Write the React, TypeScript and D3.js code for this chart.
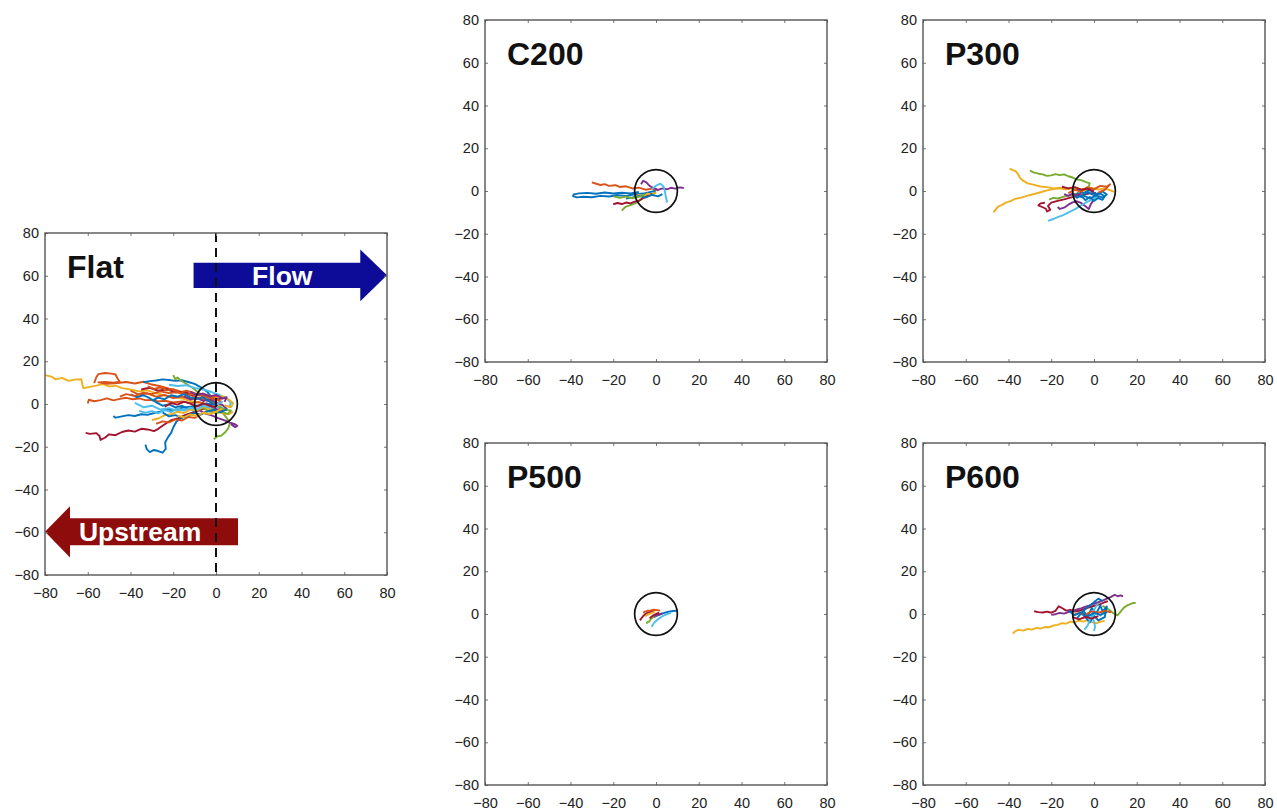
import { useEffect, useRef } from 'react';
import { select, scaleLinear, axisBottom, axisLeft, axisTop, axisRight, line } from 'd3';

type Pt = [number, number];

const tickValues = [-80, -60, -40, -20, 0, 20, 40, 60, 80];

const palette: Record<string, string> = {
  blue: '#0072BD',
  orange: '#D95319',
  yellow: '#EDB120',
  purple: '#7E2F8E',
  green: '#77AC30',
  cyan: '#4DBEEE',
  red: '#A2142F',
};

// target circle radius (data units)
const targetRadius = 10;

// Flat
const flatColors = [
  'yellow', 'orange', 'orange', 'blue', 'blue', 'red', 'blue', 'green', 'green', 'purple', 'cyan',
  'orange', 'blue', 'yellow', 'red', 'orange', 'purple', 'green', 'cyan', 'yellow', 'orange', 'blue',
  'cyan', 'orange', 'blue', 'yellow', 'purple', 'red',
];
const flatTracks: Pt[][] = [
  [[-80, 13.5], [-77, 12.8], [-75, 11.5], [-72, 12.2], [-69, 10.8], [-66, 11.4], [-63, 11.6], [-62.5, 9], [-62, 7.4], [-59, 8], [-56, 8.6], [-53, 9.3], [-50, 8.2], [-47, 8.6], [-44, 7.4], [-40, 6.8], [-36, 5.9], [-32, 6.4], [-28, 5], [-24, 4.1], [-20, 3.2], [-16, 2.6], [-12, 1.4], [-8, 0.8], [-4, -0.5], [0, 0.3], [3, -1]],
  [[-57, 9.8], [-56, 12.5], [-55, 14], [-52, 14.5], [-49, 14.2], [-47, 13.8], [-46, 11.8], [-45, 10.4], [-48, 10], [-52, 10.3], [-55, 10.1], [-51, 9.4], [-46, 9.8], [-42, 10.3], [-38, 9.6], [-34, 10.4], [-30, 9.1], [-26, 8.3], [-22, 7.2], [-18, 6.3], [-14, 5], [-10, 3.4], [-6, 2.1], [-2, 1]],
  [[-60, 0.2], [-59.5, 2], [-57, 1.3], [-54, 1.8], [-51, 2.6], [-48, 1.7], [-45, 2.4], [-42, 2.9], [-39, 2.2], [-36, 2.6], [-33, 1.8], [-30, 1.9], [-27, 1.2], [-24, 1.5], [-20, 0.7], [-16, 1.2], [-12, 0.4], [-8, 0.9], [-4, -0.2], [0, 0.5]],
  [[-48, -5.6], [-47, -6.4], [-44, -5.8], [-41, -5.2], [-38, -5.6], [-35, -4.8], [-32, -5.1], [-29, -4.2], [-26, -3.6], [-23, -2.5], [-20, -2.9], [-16, -1.8], [-12, -1.2], [-8, -0.6], [-4, 0.2], [-1, -0.8]],
  [[-33, -19], [-32.5, -21], [-31, -22.5], [-29, -21.5], [-27, -22], [-25, -22.8], [-23.5, -21], [-23.8, -18], [-22.5, -15.6], [-21, -13.5], [-20, -11], [-18.5, -8.2], [-16, -6.5], [-13, -4.8], [-10, -3.6], [-7, -2.5], [-4, -1.5], [-1, -1]],
  [[-61, -13.5], [-59, -14], [-56, -13.6], [-54.5, -15], [-54, -16.8], [-52, -15.8], [-50, -14.2], [-47, -14.6], [-44, -13.1], [-41, -12.4], [-38, -12.9], [-35, -11.6], [-32, -11.9], [-29, -12.7], [-27, -11.6], [-24, -9.5], [-21, -7.6], [-18, -6.8], [-14, -5], [-10, -3.8], [-6, -2.2], [-2, -1.4], [1, -0.6]],
  [[-34, 10.2], [-31, 10.7], [-28, 11], [-25, 11.5], [-22, 11.2], [-19, 10.8], [-16, 11.1], [-13, 10.3], [-10, 9.4], [-7, 7.8], [-4, 5.6], [-2, 3.2], [0, 1.5]],
  [[-20, 13.5], [-19, 11.6], [-18, 12.4], [-16.5, 11], [-14, 9.5], [-11, 7.6], [-8, 5.2], [-5, 3.1], [-2, 1]],
  [[-1, -16.5], [0.5, -15.2], [2.5, -14.8], [4.5, -13], [5.8, -11.2], [6.5, -9], [5, -6.5], [3, -4], [1, -2.5]],
  [[-8, -2.8], [-5, -4.5], [-2, -5.3], [1, -6.6], [4, -7.7], [6.5, -8.7], [8.5, -9.3], [10, -10.2], [9, -10.8], [7, -9.5]],
  [[-38, 0.5], [-34, -1.5], [-30, -0.8], [-26, -2.6], [-22, -1.9], [-18, -3.2], [-14, -2.2], [-10, -3.1], [-6, -1.5], [-2, -2.4], [2, -1.2], [5, -3]],
  [[-40, 6.2], [-36, 4.4], [-32, 4.9], [-28, 3.4], [-24, 4.2], [-20, 2.8], [-16, 3.5], [-12, 2.4], [-8, 3], [-4, 1.6], [0, 2.2], [3, 0.8]],
  [[-40, 4.5], [-37, 3.2], [-34, 4.1], [-31, 2.7], [-28, 0.8], [-25, -0.8], [-22, -0.2], [-19, -1.6], [-16, -0.9], [-13, -2.1], [-10, -1.2], [-7, -0.5], [-4, 0.4]],
  [[-30, -7.5], [-27, -6.8], [-24, -5.2], [-21, -4.8], [-18, -3.6], [-15, -4.2], [-12, -2.6], [-9, -3], [-6, -1.6], [-3, -2.4], [0, -3], [3, -4.4], [6, -4.8], [8, -3.5]],
  [[-35, 6.8], [-31, 7.6], [-27, 6.2], [-23, 6.9], [-19, 5.4], [-15, 5.8], [-11, 4.3], [-7, 4.7], [-3, 3.1], [1, 2.3], [4, 2.8]],
  [[-28, -9.3], [-25, -8.1], [-22, -8.6], [-19, -7.2], [-16, -7.8], [-13, -6.1], [-10, -6.5], [-7, -4.8], [-4, -3.2], [-1, -3.7], [2, -2.1]],
  [[-15, 3.6], [-12, 2.1], [-9, 2.9], [-6, 1.4], [-3, 2.3], [0, 0.6], [3, -0.4], [5, -2.2], [2, -3.3], [-1, -1.8]],
  [[-6, -2], [-3, -3.5], [0, -4.2], [3, -3.8], [5.5, -4.6], [7, -3.1], [4, -2.6], [1, -1.2]],
  [[-22, 9], [-18, 8.4], [-14, 8.8], [-10, 7.5], [-6, 6.8], [-2, 5.6], [2, 4.1], [5, 2.5], [7, 0.6], [6, -1.8]],
  [[-3, 4], [0, 3], [3, 3.7], [6, 2.1], [8, 0.4], [7, -1.5], [4, -0.6]],
  [[-45, 3.5], [-42, 4.6], [-38, 3.8], [-34, 5.3], [-30, 4.6], [-26, 5.9], [-22, 5.1], [-18, 5.6], [-14, 4.2], [-10, 4.8], [-6, 3.6], [-2, 2.8], [2, 1.5]],
  [[-25, -4], [-22, -5.8], [-19, -5.2], [-16, -6.4], [-13, -5.5], [-10, -4.3], [-7, -4.9], [-4, -3.5], [-1, -2.6], [2, -3.8], [5, -2.6]],
  [[-36, -3.2], [-33, -4.1], [-30, -3.3], [-27, -4.4], [-24, -2.9], [-21, -3.8], [-18, -2.1], [-15, -3.1], [-12, -1.7], [-9, -2.5], [-6, -0.9], [-3, -1.6], [0, -0.4], [3, 1.2]],
  [[-32, 8.2], [-29, 7.1], [-26, 7.7], [-23, 6.4], [-20, 6.9], [-17, 5.1], [-14, 6.2], [-11, 5.4], [-8, 4.1], [-5, 4.5], [-2, 3.3], [1, 3.7]],
  [[-30, 1.6], [-27, 3], [-24, 2.2], [-21, 4.1], [-18, 3.4], [-15, 4.6], [-12, 3.1], [-9, 2.3], [-6, 3.2], [-3, 1.1], [0, -0.6]],
  [[-18, -5.5], [-15, -6.2], [-12, -4.9], [-9, -5.6], [-6, -4.1], [-3, -4.7], [0, -3.6], [3, -2.2]],
  [[-12, 5.8], [-9, 4.2], [-6, 4.9], [-3, 3.6], [0, 4.3], [3, 2.6], [5, 3.2], [4, 1]],
  [[-24, -1.2], [-21, 0.4], [-18, -0.3], [-15, 1.1], [-12, 0.2], [-9, -1.2], [-6, 0.3], [-3, -0.8], [0, -1.5]],
];

// C200
const c200Colors = ['blue', 'orange', 'green', 'red', 'purple', 'cyan', 'yellow', 'blue', 'green'];
const c200Tracks: Pt[][] = [
  [[-8, -0.4], [-12, -1.1], [-16, -0.8], [-20, -1.2], [-24, -0.7], [-28, -1.3], [-32, -0.9], [-36, -1.1], [-38.5, -1.6], [-38.8, -2.4], [-37, -3], [-34, -2.7], [-30, -2.9], [-26, -2.3], [-22, -2.6], [-18, -2], [-14, -2.3], [-10, -1.6], [-6, -1.2], [-3, -0.5], [0, 0.2]],
  [[-30, 4], [-28, 3.4], [-26, 2.8], [-24, 3.2], [-22, 2.4], [-19, 2.7], [-17, 1.9], [-14, 2.2], [-11, 1.2], [-8, 1.6], [-5, 0.6], [-2, 1.1], [1, 0.3]],
  [[-16, -9.2], [-15, -8.1], [-14, -7.3], [-12, -6.6], [-10, -5.9], [-8, -4.6], [-6, -3.5], [-4, -2.1], [-2, -1.4], [0, -0.5]],
  [[-20, -6.2], [-18, -5.6], [-16, -6.1], [-14, -5.4], [-12, -5.8], [-10, -5], [-8, -4.6], [-6, -3.2], [-4, -2.4], [-2, -1.2]],
  [[-7, 3.2], [-6, 4.8], [-4.5, 4], [-3, 2.4], [-1, 1.3], [1, 0.5], [3, 1.2], [5, 0.8], [7, 1.5], [9, 1.1], [11, 1.7], [13, 1.4]],
  [[-2, 0.8], [0, 2.5], [2, 3.4], [3.5, 2.2], [4, 0.6], [4.4, -1.5], [4.8, -3.5], [5.2, -5.4]],
  [[-10, -3], [-8, -1.8], [-6, -2.6], [-4, -1.2], [-2, -1.9], [0, -0.8]],
  [[-14, -3.5], [-11, -3], [-8, -2.3], [-5, -3.1], [-2, -1.8], [1, -2.5], [3, -1.5]],
  [[-20, -2.5], [-17, -3.2], [-14, -2.6], [-11, -3.4], [-8, -2.7], [-5, -1.5]],
];

// P300
const p300Colors = ['yellow', 'yellow', 'green', 'green', 'red', 'purple', 'cyan', 'blue', 'blue', 'orange', 'red', 'purple'];
const p300Tracks: Pt[][] = [
  [[-39.5, 10.5], [-38, 9.8], [-36.5, 9.2], [-35.5, 7.8], [-34.5, 6], [-33, 4.7], [-31, 3.6], [-28, 2.9], [-25, 2.1], [-22, 1.8], [-19, 1.2], [-16, 1.5], [-13, 0.8], [-10, 1.1], [-7, 0.4], [-4, 0.6], [-1, 0.1]],
  [[-47, -10], [-46, -8.7], [-45, -7.4], [-43, -6.5], [-41, -5.3], [-39, -4.7], [-37, -3.7], [-34, -3.1], [-31, -2.2], [-28, -1.4], [-25, -0.6], [-22, 0.3], [-19, 0.9], [-16, 1.3], [-13, 0.8], [-10, 1.6], [-6, 0.9], [-2, 1.5], [2, 0.7], [5, 1.2], [8, 0.2], [9.5, -0.4]],
  [[-30, 9.5], [-28, 8.6], [-26, 8.1], [-24, 7.8], [-22, 7.1], [-20, 7.3], [-18, 7.9], [-16, 7.4], [-14, 7.8], [-12, 6.9], [-10, 6.3], [-8, 5.4], [-6, 5.1], [-4, 4.3], [-2, 3.6], [-2.5, 2]],
  [[-21, -4], [-19, -3.2], [-17, -3.5], [-14, -2.6], [-11, -1.9], [-8, -1.2], [-5, -0.6]],
  [[-23, -5.5], [-25, -5.8], [-26, -6.7], [-24, -7.6], [-22.5, -8.3], [-22, -9.6], [-20.5, -8.8], [-21.5, -7], [-20, -5.4], [-17, -4.6], [-14, -3.9], [-11, -3.1], [-8, -2.3], [-5, -1.8], [-2, -1.1], [1, -0.9]],
  [[-17, -7.5], [-16, -8.4], [-14, -7.8], [-12, -6.4], [-10, -5.3], [-8, -4.8], [-6, -5.6], [-4, -7.1], [-2.5, -8.5], [-1.5, -6.2], [0, -3.8]],
  [[-21.5, -14], [-19, -13.1], [-17, -12.2], [-15, -11.5], [-13, -10.6], [-11, -9.5], [-9, -8.6], [-7, -7.3], [-5, -6.1], [-3, -5], [0, -3.6], [3, -2.4]],
  [[-10, -1.5], [-8, -3.2], [-6, -2.1], [-4, -4.3], [-2, -2.8], [0, -4.6], [2, -3.3], [4, -4.1], [5, -2.5], [3, -1.2], [0, -2], [-3, -0.5], [-6, -2.8], [-8, -0.8]],
  [[-8, 1], [-5, -1], [-2, 0.5], [1, -1.5], [4, -0.2], [6, -1.6], [4, -3], [1, -2.2], [-2, -3.5], [-5, -2.1]],
  [[-12, -1], [-9, 0.5], [-6, -0.3], [-3, 1.8], [0, 0.9], [3, 2.4], [6, 2], [7.5, 3.1], [5, 0.5], [2, -0.8]],
  [[-15, 2], [-12, 1.2], [-9, 1.8], [-6, 0.6], [-3, 1.1], [0, -0.2]],
  [[-14, -1.5], [-12, -2.3], [-10, -1.2], [-8, -2], [-6, -1]],
];

// P500
const p500Colors = ['red', 'orange', 'blue', 'green', 'cyan', 'purple', 'yellow', 'red'];
const p500Tracks: Pt[][] = [
  [[-7.5, -3], [-6.8, -2], [-6, -1], [-5, 0], [-4, 0.6], [-2.5, 1], [-1, 1.2]],
  [[-6, 0.6], [-5, 1.2], [-4, 1.5], [-2.5, 1.7], [-1, 2], [0.5, 1.8], [2, 1.6]],
  [[-1, -1.5], [0.5, -0.8], [2, -0.2], [3.5, 0.4], [5, 0.8], [6.5, 1.2], [8, 1.4], [9.5, 1.6], [10, 1.2]],
  [[-4.5, -4.5], [-4, -3.8], [-3.2, -3.6], [-2.5, -2.4], [-1.5, -1.6], [0, -0.8], [1, -0.4]],
  [[-2, -6], [-1.5, -5], [-0.8, -4], [0.5, -2.8], [2, -1.7], [3.5, -0.8], [5, -0.2], [7, 0.5]],
  [[-1, -1], [0.5, -0.5], [2, 0], [3, 0.3]],
  [[-5, -1], [-3.5, -0.2], [-2, 0.5], [-0.5, 1]],
  [[-3, -2], [-1.5, -0.8], [0, 0], [1.5, 0.6]],
];

// P600
const p600Colors = ['yellow', 'red', 'purple', 'green', 'blue', 'cyan', 'cyan', 'orange', 'blue', 'red'];
const p600Tracks: Pt[][] = [
  [[-38, -9.2], [-37, -8.2], [-35.5, -7.4], [-33, -7.8], [-31, -7], [-29, -7.3], [-27, -6.5], [-25, -6.8], [-23, -6.1], [-21, -6.2], [-19, -5.4], [-17, -5.1], [-15, -4.3], [-13, -4.5], [-11, -3.6], [-9, -3.8], [-7, -3.1], [-5, -3.6], [-3, -2.9], [-1, -3.8], [1, -4.4], [3, -3.6], [5, -3.2]],
  [[-28, 1.3], [-26, 0.9], [-24, 0.7], [-22, 1.1], [-20, 0.6], [-18, 1.5], [-16.5, 3.6], [-15, 2.8], [-13, 1.6], [-11, 1.9], [-9, 1.1], [-7, 1.5], [-5, 2.2], [-3, 2.9], [-1, 3.5], [1, 4], [3, 4.6], [5, 5.5], [6.5, 6]],
  [[-20, -0.4], [-18, -0.1], [-16, 0.5], [-14, 0.2], [-12, 0.9], [-10, 1.4], [-8, 2.1], [-6, 2.6], [-4, 3.4], [-2, 4], [0, 4.8], [2, 5.5], [4, 6.3], [6, 7.2], [8, 8], [9.7, 9], [11, 8.3], [12.5, 8.7], [13.6, 8.2]],
  [[4, 3.8], [5.5, 3], [7, 2], [8.5, 0.8], [10, -0.2], [11, -0.6], [12, 0.5], [13, 1.8], [14, 3], [15.5, 4], [17, 4.6], [18.5, 5.2], [19.5, 5.1]],
  [[-8, -2], [-5, 1.5], [-3, -1], [-1, 2.8], [1, 0.2], [3, 4], [4, 1.2], [6, 3.5], [5, -1.5], [2, -3], [0, -0.8], [-2, -4], [-4, -1.5], [-6, 0.5], [-3, 3.2], [0, 5.5], [2, 7.2], [4, 6]],
  [[-4.5, -7.3], [-3, -5.4], [-2, -3], [-1, -0.6], [0, 1.8], [1, 3.6], [2, 5]],
  [[0, -8], [0.5, -6], [0, -3.5], [-1, -1.2], [1, 0.6], [3, -0.8], [5, 1.5]],
  [[-10, -0.8], [-7, 0.5], [-4, -0.3], [-1, 1.2], [2, 0.6], [5, 1.4], [8, 0.8]],
  [[-12, 1.5], [-9, -0.5], [-6, 0.8], [-3, -1.2], [0, 0.5], [3, -0.4], [6, 1]],
  [[-10, -1.5], [-7, -2.5], [-4, -1.4], [-1, -2.2], [2, -1]],
];

// arrows on the Flat panel, in data units
const flowArrow = { x0: -10.5, x1: 67.5, tip: 80, yc: 60.2, shaft: 5.9, head: 12.1, label: 'Flow', lx: 31 };
const upArrow = { x0: 10.3, x1: -68.3, tip: -80, yc: -59.8, shaft: 6.3, head: 12, label: 'Upstream', lx: -35.5 };

const SIZE = 342;
const FONT = "'Liberation Sans', Arial, Helvetica, sans-serif";

const panels = [
  { name: 'Flat', tracks: flatTracks, colors: flatColors, left: 45, top: 233, flat: true },
  { name: 'C200', tracks: c200Tracks, colors: c200Colors, left: 485, top: 20, flat: false },
  { name: 'P300', tracks: p300Tracks, colors: p300Colors, left: 923, top: 20, flat: false },
  { name: 'P500', tracks: p500Tracks, colors: p500Colors, left: 485, top: 443, flat: false },
  { name: 'P600', tracks: p600Tracks, colors: p600Colors, left: 923, top: 443, flat: false },
];

export default function App() {
  const svgRef = useRef<SVGSVGElement | null>(null);

  useEffect(() => {
    if (!svgRef.current) return;
    const svg = select(svgRef.current);
    svg.selectAll('*').remove();
    svg.append('rect').attr('width', 1277).attr('height', 812).attr('fill', '#fff');

    const x = scaleLinear().domain([-80, 80]).range([0, SIZE]);
    const y = scaleLinear().domain([-80, 80]).range([SIZE, 0]);
    const path = line<Pt>().x((d) => x(d[0])).y((d) => y(d[1]));

    panels.forEach((p) => {
      const g = svg.append('g').attr('transform', `translate(${p.left},${p.top})`);

      if (p.flat) {
        [flowArrow, upArrow].forEach((a, i) => {
          const pts: Pt[] = [
            [a.x0, a.yc + a.shaft], [a.x1, a.yc + a.shaft], [a.x1, a.yc + a.head], [a.tip, a.yc],
            [a.x1, a.yc - a.head], [a.x1, a.yc - a.shaft], [a.x0, a.yc - a.shaft],
          ];
          g.append('path')
            .attr('d', path(pts) + 'Z')
            .attr('fill', i === 0 ? '#0c0c98' : '#8e0c0c');
          g.append('text')
            .attr('x', x(a.lx))
            .attr('y', y(a.yc))
            .attr('dy', '0.36em')
            .attr('text-anchor', 'middle')
            .attr('font-family', FONT)
            .attr('font-weight', 'bold')
            .attr('font-size', 26.5)
            .attr('fill', '#fff')
            .text(a.label);
        });
      }

      g.append('g')
        .selectAll('path')
        .data(p.tracks)
        .join('path')
        .attr('d', (d) => path(d))
        .attr('fill', 'none')
        .attr('stroke', (_d, i) => palette[p.colors[i]])
        .attr('stroke-width', 1.9)
        .attr('stroke-linejoin', 'round');

      g.append('circle')
        .attr('cx', x(0))
        .attr('cy', y(0))
        .attr('r', x(targetRadius) - x(0))
        .attr('fill', 'none')
        .attr('stroke', '#111')
        .attr('stroke-width', 1.7);

      if (p.flat) {
        g.append('line')
          .attr('x1', x(0)).attr('x2', x(0))
          .attr('y1', y(80)).attr('y2', y(-80))
          .attr('stroke', '#111')
          .attr('stroke-width', 2)
          .attr('stroke-dasharray', '9,6');
      }

      const styleAxis = (ax: any) => {
        ax.select('.domain').remove();
        ax.selectAll('line').attr('stroke', '#777');
        ax.selectAll('text')
          .attr('fill', '#222')
          .attr('font-size', 14.5)
          .attr('font-family', FONT);
      };

      const bx = g.append('g').attr('transform', `translate(0,${SIZE})`)
        .call(axisBottom(x).tickValues(tickValues).tickSizeInner(-3).tickSizeOuter(0).tickPadding(13));
      styleAxis(bx);
      const lx = g.append('g')
        .call(axisLeft(y).tickValues(tickValues).tickSizeInner(-3).tickSizeOuter(0).tickPadding(6));
      styleAxis(lx);
      const tx = g.append('g')
        .call(axisTop(x).tickValues(tickValues).tickSizeInner(-3).tickSizeOuter(0).tickFormat(() => ''));
      styleAxis(tx);
      const rx = g.append('g').attr('transform', `translate(${SIZE},0)`)
        .call(axisRight(y).tickValues(tickValues).tickSizeInner(-3).tickSizeOuter(0).tickFormat(() => ''));
      styleAxis(rx);

      g.append('rect')
        .attr('width', SIZE)
        .attr('height', SIZE)
        .attr('fill', 'none')
        .attr('stroke', '#555')
        .attr('stroke-width', 1.4);

      g.append('text')
        .attr('x', 22)
        .attr('y', 45)
        .attr('font-family', FONT)
        .attr('font-weight', 'bold')
        .attr('font-size', 32)
        .attr('fill', '#111')
        .text(p.name);
    });
  }, []);

  return (
    <svg
      ref={svgRef}
      width={1277}
      height={812}
      style={{ position: 'absolute', left: 0, top: 0, display: 'block' }}
    />
  );
}
